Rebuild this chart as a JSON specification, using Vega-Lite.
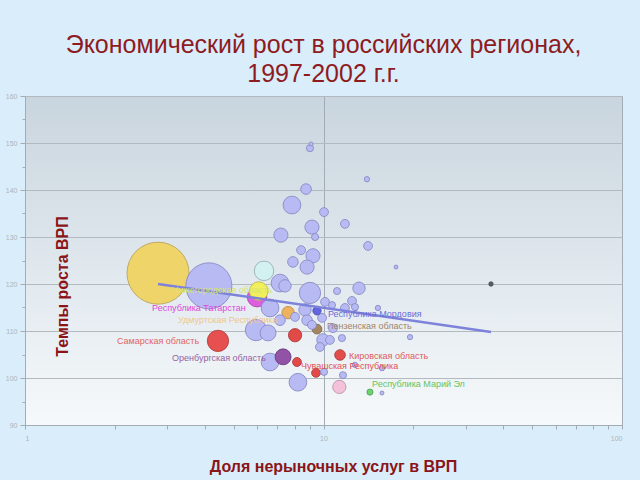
{
  "$schema": "https://vega.github.io/schema/vega-lite/v6.json",
  "width": 597,
  "height": 329,
  "autosize": {"type": "none"},
  "padding": {"left": 25, "top": 96, "right": 18, "bottom": 55},
  "background": "#d9edfa",
  "view": {
    "stroke": "#a3acb4",
    "fill": {"gradient": "linear", "x1": 0, "y1": 0, "x2": 0, "y2": 1,
      "stops": [{"offset": 0, "color": "#c9d5de"}, {"offset": 0.5, "color": "#dfe7ed"}, {"offset": 1, "color": "#f6f9fb"}]}
  },
  "title": {
    "text": ["Экономический рост  в российских регионах,", "1997-2002 г.г."],
    "font": "Liberation Sans", "fontSize": 25, "fontWeight": "normal", "color": "#8e1b1f",
    "anchor": "middle", "lineHeight": 29, "offset": 5
  },
  "datasets": {
    "bubbles": [
      {"x": 2.79, "y": 122.3, "s": 1225, "g": "y1"},
      {"x": 4.13, "y": 119.6, "s": 676, "g": "lav"},
      {"x": 6.32, "y": 122.8, "s": 121, "g": "cyan"},
      {"x": 5.99, "y": 117.2, "s": 121, "g": "tat"},
      {"x": 6.07, "y": 118.5, "s": 110, "g": "niz"},
      {"x": 7.61, "y": 113.9, "s": 49, "g": "udm"},
      {"x": 4.43, "y": 107.9, "s": 144, "g": "sam"},
      {"x": 7.32, "y": 104.5, "s": 81, "g": "ore"},
      {"x": 8.15, "y": 103.4, "s": 25, "g": "chu"},
      {"x": 9.44, "y": 101.1, "s": 25, "g": "red"},
      {"x": 11.36, "y": 104.9, "s": 36, "g": "kir"},
      {"x": 9.51, "y": 110.4, "s": 30, "g": "pen"},
      {"x": 8.03, "y": 109.1, "s": 56, "g": "red"},
      {"x": 9.51, "y": 114.3, "s": 22, "g": "mor"},
      {"x": 14.31, "y": 97.0, "s": 12, "g": "mar"},
      {"x": 11.3, "y": 98.1, "s": 56, "g": "pink"},
      {"x": 36.4, "y": 120.0, "s": 6, "g": "dot"},
      {"x": 9.01, "y": 148.9, "s": 16, "g": "lav"},
      {"x": 9.09, "y": 149.8, "s": 5, "g": "lav"},
      {"x": 13.98, "y": 142.3, "s": 9, "g": "lav"},
      {"x": 8.74, "y": 140.2, "s": 36, "g": "lav"},
      {"x": 7.84, "y": 136.8, "s": 100, "g": "lav"},
      {"x": 10.04, "y": 135.3, "s": 25, "g": "lav"},
      {"x": 11.8, "y": 132.8, "s": 25, "g": "lav"},
      {"x": 9.15, "y": 132.1, "s": 64, "g": "lav"},
      {"x": 9.37, "y": 130.0, "s": 16, "g": "lav"},
      {"x": 7.2, "y": 130.4, "s": 64, "g": "lav"},
      {"x": 14.1, "y": 128.1, "s": 25, "g": "lav"},
      {"x": 8.41, "y": 127.2, "s": 25, "g": "lav"},
      {"x": 9.22, "y": 126.0, "s": 64, "g": "lav"},
      {"x": 7.9, "y": 124.7, "s": 36, "g": "lav"},
      {"x": 8.81, "y": 123.6, "s": 64, "g": "lav"},
      {"x": 17.5, "y": 123.6, "s": 5, "g": "lav"},
      {"x": 13.15, "y": 119.1, "s": 49, "g": "lav"},
      {"x": 7.15, "y": 120.2, "s": 100, "g": "lav"},
      {"x": 7.43, "y": 119.6, "s": 49, "g": "lav"},
      {"x": 9.01, "y": 118.1, "s": 144, "g": "lav"},
      {"x": 12.46, "y": 116.4, "s": 25, "g": "lav"},
      {"x": 12.75, "y": 115.1, "s": 16, "g": "lav"},
      {"x": 11.8, "y": 114.9, "s": 25, "g": "lav"},
      {"x": 15.22, "y": 114.9, "s": 9, "g": "lav"},
      {"x": 10.68, "y": 115.5, "s": 16, "g": "lav"},
      {"x": 10.12, "y": 116.2, "s": 25, "g": "lav"},
      {"x": 6.62, "y": 114.9, "s": 100, "g": "lav"},
      {"x": 8.03, "y": 113.0, "s": 25, "g": "lav"},
      {"x": 8.67, "y": 114.5, "s": 49, "g": "lav"},
      {"x": 8.81, "y": 112.3, "s": 36, "g": "lav"},
      {"x": 9.15, "y": 111.3, "s": 25, "g": "lav"},
      {"x": 9.89, "y": 112.8, "s": 25, "g": "lav"},
      {"x": 7.15, "y": 112.3, "s": 36, "g": "lav"},
      {"x": 5.94, "y": 110.2, "s": 144, "g": "lav"},
      {"x": 6.52, "y": 109.6, "s": 81, "g": "lav"},
      {"x": 10.76, "y": 110.6, "s": 25, "g": "lav"},
      {"x": 9.96, "y": 108.1, "s": 49, "g": "lav"},
      {"x": 9.73, "y": 106.6, "s": 25, "g": "lav"},
      {"x": 10.51, "y": 108.1, "s": 25, "g": "lav"},
      {"x": 11.53, "y": 108.5, "s": 16, "g": "lav"},
      {"x": 6.62, "y": 103.4, "s": 100, "g": "lav"},
      {"x": 10.04, "y": 101.3, "s": 16, "g": "lav"},
      {"x": 11.62, "y": 100.6, "s": 16, "g": "lav"},
      {"x": 8.21, "y": 99.1, "s": 100, "g": "lav"},
      {"x": 12.75, "y": 102.8, "s": 9, "g": "lav"},
      {"x": 19.49, "y": 108.7, "s": 9, "g": "lav"},
      {"x": 15.7, "y": 96.8, "s": 5, "g": "lav"},
      {"x": 15.7, "y": 102.1, "s": 9, "g": "lav"},
      {"x": 11.1, "y": 118.5, "s": 16, "g": "lav"}
    ],
    "trend": [
      {"x": 2.79, "y": 120.0},
      {"x": 36.4, "y": 109.8}
    ],
    "labels": [
      {"x": 3.11, "y": 118.7, "t": "Нижегородская область", "g": "niz"},
      {"x": 2.665, "y": 114.9, "t": "Республика Татарстан", "g": "tat"},
      {"x": 3.255, "y": 112.3, "t": "Удмуртская Республика", "g": "udm"},
      {"x": 2.033, "y": 107.9, "t": "Самарская область", "g": "sam"},
      {"x": 3.11, "y": 104.3, "t": "Оренбургская область", "g": "ore"},
      {"x": 8.41, "y": 102.6, "t": "Чувашская Республика", "g": "chu"},
      {"x": 12.17, "y": 104.7, "t": "Кировская область", "g": "kir"},
      {"x": 10.27, "y": 111.1, "t": "Пензенская область", "g": "pen"},
      {"x": 10.35, "y": 113.6, "t": "Республика Мордовия", "g": "mor"},
      {"x": 14.54, "y": 98.7, "t": "Республика Марий Эл", "g": "mar"}
    ]
  },
  "encoding": {
    "x": {
      "field": "x", "type": "quantitative",
      "scale": {"type": "log", "domain": [1, 100], "nice": false},
      "axis": {
        "values": [1, 2, 3, 4, 5, 6, 7, 8, 9, 10, 20, 30, 40, 50, 60, 70, 80, 90, 100],
        "labelExpr": "datum.value == 1 || datum.value == 10 || datum.value == 100 ? format(datum.value, 'd') : ''",
        "labelFont": "Liberation Sans", "labelFontSize": 7, "labelColor": "#b0b4b8", "labelPadding": 5,
        "grid": true, "gridColor": "#a3acb4",
        "gridOpacity": {"condition": {"test": "datum.value == 10", "value": 1}, "value": 0},
        "tickColor": "#a3acb4", "tickSize": 4, "domainColor": "#a3acb4",
        "title": "Доля нерыночных услуг в ВРП",
        "titleFont": "Liberation Sans", "titleFontSize": 16, "titleFontWeight": "bold", "titleColor": "#8a1418",
        "titleX": 308, "titleY": 41, "titleBaseline": "middle", "titleAlign": "center"
      }
    },
    "y": {
      "field": "y", "type": "quantitative",
      "scale": {"domain": [90, 160], "nice": false, "zero": false},
      "axis": {
        "values": [90, 95, 100, 105, 110, 115, 120, 125, 130, 135, 140, 145, 150, 155, 160],
        "labelExpr": "datum.value % 10 == 0 ? datum.label : ''",
        "labelFont": "Liberation Sans", "labelFontSize": 7, "labelColor": "#b0b4b8", "labelPadding": 3,
        "grid": true, "gridColor": "#b2babf",
        "gridOpacity": {"condition": {"test": "datum.value % 10 == 0", "value": 1}, "value": 0},
        "tickColor": "#a3acb4",
        "tickSize": {"condition": {"test": "datum.value % 10 == 0", "value": 5}, "value": 3},
        "domainColor": "#a3acb4",
        "title": "Темпы роста ВРП",
        "titleFont": "Liberation Sans", "titleFontSize": 16, "titleFontWeight": "bold", "titleColor": "#8a1418",
        "titleX": 37, "titleY": 190, "titleAngle": -90, "titleBaseline": "middle", "titleAlign": "center"
      }
    }
  },
  "layer": [
    {
      "data": {"name": "bubbles"},
      "mark": {"type": "point", "shape": "circle", "filled": false, "opacity": 1, "fillOpacity": 1, "strokeWidth": 1, "strokeOpacity": 0.85},
      "encoding": {
        "size": {"field": "s", "type": "quantitative", "scale": {"type": "linear", "domain": [0, 1225], "range": [0, 3848]}, "legend": null},
        "fill": {"field": "g", "type": "nominal", "legend": null,
          "scale": {
            "domain": ["y1", "lav", "cyan", "tat", "niz", "udm", "sam", "ore", "chu", "red", "kir", "pen", "mor", "mar", "pink", "dot"],
            "range": ["#efd46a", "#b7baf3", "#d3f1f1", "#dd5fe0", "#f2ef5c", "#eeb25e", "#e6504f", "#9252a6", "#e24a48", "#e24a48", "#e24e4c", "#a58660", "#6266e2", "#6bd36b", "#f3c2da", "#5c6066"]
          }},
        "stroke": {"field": "g", "type": "nominal", "legend": null,
          "scale": {
            "domain": ["y1", "lav", "cyan", "tat", "niz", "udm", "sam", "ore", "chu", "red", "kir", "pen", "mor", "mar", "pink", "dot"],
            "range": ["#b8a158", "#8688c2", "#93aeb0", "#a848aa", "#b8b548", "#b88a48", "#b03c3c", "#6c3c7c", "#a83a38", "#a83a38", "#a83a38", "#7c6448", "#4a4cae", "#50a050", "#b890a4", "#44484c"]
          }},
        "order": {"field": "s", "type": "quantitative", "sort": "descending"}
      }
    },
    {
      "data": {"name": "trend"},
      "mark": {"type": "line", "color": "#7d82da", "strokeWidth": 2.5},
      "encoding": {}
    },
    {
      "data": {"name": "labels"},
      "mark": {"type": "text", "align": "left", "baseline": "middle", "font": "Liberation Sans", "fontSize": 9, "fontWeight": "normal"},
      "encoding": {
        "text": {"field": "t", "type": "nominal"},
        "color": {"field": "g", "type": "nominal", "legend": null,
          "scale": {
            "domain": ["niz", "tat", "udm", "sam", "ore", "chu", "kir", "pen", "mor", "mar"],
            "range": ["#d6e46e", "#e046dc", "#f0c68c", "#e26464", "#9462a4", "#e25050", "#e05a5a", "#a48464", "#6a6ed6", "#62c462"]
          }}
      }
    }
  ]
}
